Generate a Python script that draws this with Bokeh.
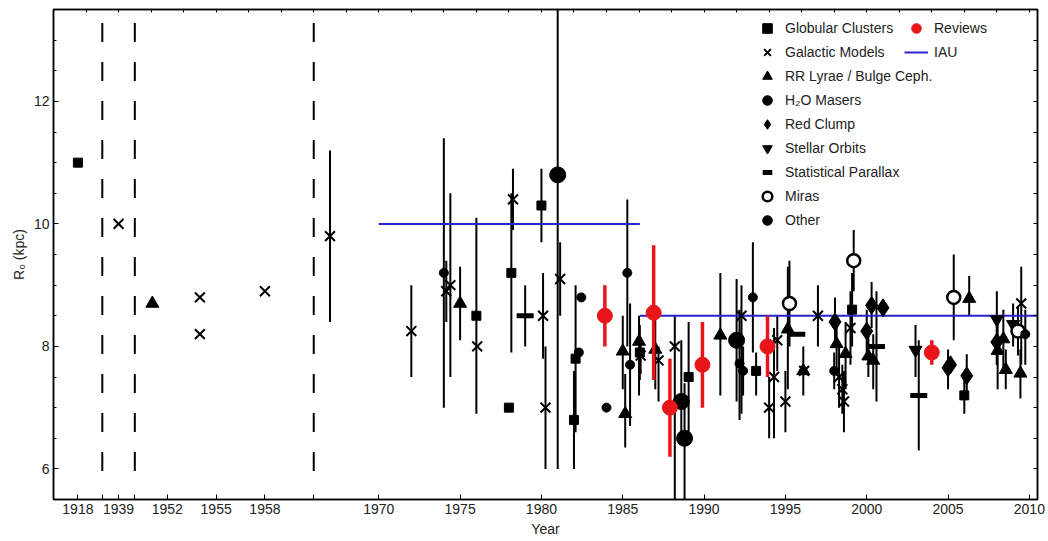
import numpy as np
from bokeh.plotting import figure
from bokeh.models import Range1d, LinearAxis, FixedTicker, Legend, LegendItem, CustomJSTickFormatter
from bokeh.embed import file_html
from bokeh.resources import INLINE

nan = float("nan")
FONT = "Liberation Sans"

# ---- broken time axis: year label -> axis position ----
AXIS_YEARS = [1918, 1939, 1952, 1955, 1958, 1966, 2011]
AXIS_POS = [1951.5, 1954, 1957, 1960, 1963, 1966, 2011]
BREAK_POS = [1953, 1955, 1966]
TICK_YEARS = [1918, 1939, 1952, 1955, 1958, 1970, 1975, 1980, 1985, 1990, 1995, 2000, 2005, 2010]

# ---- data: year, R0 (kpc), lower / upper end of error bar ----
GC_YEAR = [1918, 1976.0, 1978.15, 1978.0, 1980.0, 1982.0, 1982.1, 1986.05, 1989.05, 1993.2, 1999.1, 2006.0]
GC_R0 = [11.0, 8.5, 9.2, 7.0, 10.3, 6.8, 7.8, 7.9, 7.5, 7.6, 8.6, 7.2]
GC_LO = [nan, 6.9, 7.9, nan, 9.7, 6.0, 6.6, 7.45, 6.6, 7.2, 8.0, 6.9]
GC_HI = [nan, 10.1, 10.5, nan, 10.9, 7.6, 9.0, 8.35, 8.4, 7.9, 9.2, 7.45]

GM_YEAR = [1939, 1954, 1954, 1958, 1967, 1972.0, 1974.15, 1974.4, 1976.05, 1978.25, 1980.1, 1980.25,
           1981.15, 1986.1, 1987.2, 1988.2, 1992.3, 1994.0, 1994.3, 1994.5, 1995.0, 1996.15, 1997.0,
           1998.3, 1998.5, 1998.6, 1999.0, 2009.5]
GM_R0 = [10.0, 8.8, 8.2, 8.9, 9.8, 8.25, 8.9, 9.0, 8.0, 10.4, 8.5, 7.0,
         9.1, 7.85, 7.77, 8.0, 8.5, 7.0, 7.5, 8.1, 7.1, 7.6, 8.5,
         7.5, 7.3, 7.1, 8.3, 8.7]
GM_LO = [nan, nan, nan, nan, 8.4, 7.5, 8.4, 7.5, nan, 9.9, 7.8, 6.0,
         8.5, 7.55, 7.1, 5.5, 6.9, 6.5, 6.5, 7.6, 6.6, nan, 8.0,
         7.0, 6.9, 6.6, 7.7, 7.7]
GM_HI = [nan, nan, nan, nan, 11.2, 9.0, 9.4, 10.5, nan, 10.9, 9.2, 8.0,
         9.7, 8.15, 8.0, 8.5, 9.0, 7.5, 8.3, 8.5, 7.6, nan, 9.0,
         8.0, 7.7, 7.6, 8.9, 9.3]

RR_YEAR = [1948, 1975.0, 1985.0, 1985.15, 1986.0, 1987.0, 1991.0, 1995.15, 1996.1, 1998.15, 1998.7,
           2000.1, 2000.4, 2006.3, 2008.05, 2008.4, 2008.55, 2009.45]
RR_R0 = [8.7, 8.7, 7.92, 6.9, 8.08, 7.95, 8.18, 8.28, 7.6, 8.04, 7.88,
         7.84, 7.77, 8.78, 7.93, 8.12, 7.62, 7.56]
RR_LO = [nan, 8.1, 7.3, 6.35, 7.2, 7.3, 7.2, 7.3, 7.2, 7.6, 7.3,
         7.5, 7.3, 8.5, 7.3, 7.6, 7.3, 7.15]
RR_HI = [nan, 9.3, 8.5, 7.55, 8.5, 8.6, 9.2, 9.3, 8.0, 8.5, 8.4,
         8.2, 8.2, 9.15, 8.5, 8.6, 7.95, 7.95]

MASER_YEAR = [1981.0, 1988.6, 1988.8, 1992.0]
MASER_R0 = [10.8, 7.1, 6.5, 8.1]
MASER_LO = [6.0, 6.4, 5.5, 7.1]
MASER_HI = [15.6, 8.1, 7.4, 9.1]

RC_YEAR = [1998.05, 2000.0, 2000.3, 2001.0, 2005.0, 2005.15, 2006.15, 2008.0]
RC_R0 = [8.4, 8.25, 8.67, 8.63, 7.65, 7.7, 7.52, 8.07]
RC_LO = [8.0, 7.9, 8.3, nan, 7.3, nan, 7.2, 7.7]
RC_HI = [8.8, 8.6, 9.05, nan, 7.95, nan, 7.87, 8.45]

SO_YEAR = [2003.0, 2008.0, 2009.0]
SO_R0 = [7.94, 8.44, 8.36]
SO_LO = [7.5, 7.7, 8.0]
SO_HI = [8.35, 8.9, 8.7]

SP_YEAR = [1979.0, 1995.7, 2000.6, 2003.2]
SP_R0 = [8.5, 8.2, 8.0, 7.2]
SP_LO = [8.0, nan, 7.1, 6.3]
SP_HI = [9.0, nan, 8.9, 8.1]

MIRA_YEAR = [1995.25, 1999.2, 2005.35, 2009.3]
MIRA_R0 = [8.7, 9.4, 8.8, 8.25]
MIRA_LO = [8.0, 8.9, 8.1, 7.85]
MIRA_HI = [9.4, 9.9, 9.5, 8.65]

OTHER_YEAR = [1974.0, 1982.3, 1982.45, 1984.0, 1985.28, 1985.45, 1992.18, 1992.4, 1993.0, 1998.0, 2009.75]
OTHER_R0 = [9.2, 7.9, 8.8, 7.0, 9.2, 7.7, 7.72, 7.6, 8.8, 7.6, 8.2]
OTHER_LO = [7.0, nan, nan, nan, 8.0, 6.7, 6.8, 7.2, 7.9, 7.3, 7.7]
OTHER_HI = [11.4, nan, nan, nan, 10.4, 8.7, 8.6, 8.0, 9.7, 7.9, 8.6]

REV_YEAR = [1983.9, 1986.9, 1987.9, 1989.9, 1993.9, 2004.0]
REV_R0 = [8.5, 8.55, 7.0, 7.7, 8.0, 7.9]
REV_LO = [8.0, 7.45, 6.2, 7.0, 7.5, 7.7]
REV_HI = [9.0, 9.65, 7.8, 8.4, 8.5, 8.1]

IAU_START = [1970, 1986.05]
IAU_END = [1986.05, 2010.5]
IAU_R0 = [10.0, 8.5]

BLACK = "#000000"
RED = "#e8161b"
BLUE = "#2b22c8"


def pos(years):
    return np.interp(np.asarray(years, dtype=float), AXIS_YEARS, AXIS_POS)


p = figure(width=1048, height=541, x_range=Range1d(1950, 2010.5), y_range=Range1d(5.5, 13.5),
           output_backend="svg", toolbar_location=None,
           min_border_left=53, min_border_right=11, min_border_top=9, min_border_bottom=42,
           background_fill_color="white", border_fill_color="white")
p.grid.visible = False
p.outline_line_color = "black"
p.outline_line_width = 1.5

# axis-break dashed lines
p.segment(x0=BREAK_POS, y0=[13.28] * 3, x1=BREAK_POS, y1=[5.9] * 3,
          line_color="black", line_width=2, line_dash="19 20")


def bars(year, lo, hi, color, width):
    idx = [i for i in range(len(year)) if not np.isnan(lo[i])]
    x = pos([year[i] for i in idx])
    p.segment(x0=x, y0=[lo[i] for i in idx], x1=x, y1=[hi[i] for i in idx],
              line_color=color, line_width=width)


for yr, lo, hi in [(GC_YEAR, GC_LO, GC_HI), (GM_YEAR, GM_LO, GM_HI), (RR_YEAR, RR_LO, RR_HI),
                   (MASER_YEAR, MASER_LO, MASER_HI), (RC_YEAR, RC_LO, RC_HI), (SO_YEAR, SO_LO, SO_HI),
                   (SP_YEAR, SP_LO, SP_HI), (MIRA_YEAR, MIRA_LO, MIRA_HI), (OTHER_YEAR, OTHER_LO, OTHER_HI)]:
    bars(yr, lo, hi, BLACK, 2)

r_iau = p.segment(x0=IAU_START, y0=IAU_R0, x1=IAU_END, y1=IAU_R0, line_color=BLUE, line_width=2)

r_gc = p.scatter(pos(GC_YEAR), GC_R0, marker="square", size=9, color=BLACK)
r_gm = p.scatter(pos(GM_YEAR), GM_R0, marker="x", size=14, line_width=2, color=BLACK)
r_rr = p.scatter(pos(RR_YEAR), RR_R0, marker="triangle", size=13, color=BLACK)
r_ms = p.scatter(pos(MASER_YEAR), MASER_R0, marker="circle", size=16, color=BLACK)
r_rc = p.scatter(pos(RC_YEAR), RC_R0, marker="diamond", size=18, color=BLACK)
r_so = p.scatter(pos(SO_YEAR), SO_R0, marker="inverted_triangle", size=13, color=BLACK)
r_sp = p.scatter(pos(SP_YEAR), SP_R0, marker="dash", size=17, line_width=5, color=BLACK)
r_mi = p.scatter(pos(MIRA_YEAR), MIRA_R0, marker="circle", size=13, line_width=2.5,
                 line_color=BLACK, fill_color="white")
r_ot = p.scatter(pos(OTHER_YEAR), OTHER_R0, marker="circle", size=9, color=BLACK)

bars(REV_YEAR, REV_LO, REV_HI, RED, 3.5)
r_rev = p.scatter(pos(REV_YEAR), REV_R0, marker="circle", size=15, color=RED)

# ---- axes ----
label_pos = [float(v) for v in pos(TICK_YEARS)]
overrides = {lp: str(y) for lp, y in zip(label_pos, TICK_YEARS)}
for b in BREAK_POS:
    overrides[float(b)] = ""
xa = p.xaxis[0]
xa.ticker = FixedTicker(ticks=label_pos + [float(b) for b in BREAK_POS])
xa.major_label_overrides = overrides
xa.axis_label = "Year"

ya = p.yaxis[0]
ya.ticker = FixedTicker(ticks=[6, 8, 10, 12], minor_ticks=list(np.arange(5.5, 13.51, 0.5)))
ya.axis_label = "R₀ (kpc)"

for ax in [xa, ya]:
    ax.major_tick_in = 5
    ax.major_tick_out = 0
    ax.minor_tick_in = 3
    ax.minor_tick_out = 0
    ax.major_label_text_font = FONT
    ax.major_label_text_font_size = "14px"
    ax.major_label_text_color = "#222222"
    ax.axis_label_text_font = FONT
    ax.axis_label_text_font_size = "14px"
    ax.axis_label_text_font_style = "normal"
    ax.axis_label_text_color = "#222222"
    ax.axis_line_width = 1.5
    ax.major_label_standoff = 4
    ax.axis_label_standoff = 4
xa.minor_tick_line_color = None

blank = CustomJSTickFormatter(code="return ''")
top = LinearAxis(ticker=FixedTicker(ticks=list(np.arange(1950, 2011, 2))), formatter=blank,
                 major_tick_in=3, major_tick_out=0, minor_tick_line_color=None,
                 major_label_text_font_size="0px", major_label_standoff=0, axis_line_width=1.5)
right = LinearAxis(y_range_name="default", ticker=FixedTicker(ticks=list(np.arange(5.5, 13.51, 0.5))),
                   formatter=blank, major_tick_in=4, major_tick_out=0, minor_tick_line_color=None,
                   major_label_text_font_size="0px", major_label_standoff=0, axis_line_width=1.5)
p.add_layout(top, "above")
p.add_layout(right, "right")

# ---- legends ----
common = dict(orientation="vertical", border_line_color=None, background_fill_alpha=0,
              padding=0, margin=0, spacing=0, glyph_width=24, glyph_height=24, label_height=24,
              label_standoff=6, label_text_font=FONT, label_text_font_size="14px",
              label_text_color="#222222")
leg1 = Legend(items=[
    LegendItem(label="Globular Clusters", renderers=[r_gc]),
    LegendItem(label="Galactic Models", renderers=[r_gm]),
    LegendItem(label="RR Lyrae / Bulge Ceph.", renderers=[r_rr]),
    LegendItem(label="H₂O Masers", renderers=[r_ms]),
    LegendItem(label="Red Clump", renderers=[r_rc]),
    LegendItem(label="Stellar Orbits", renderers=[r_so]),
    LegendItem(label="Statistical Parallax", renderers=[r_sp]),
    LegendItem(label="Miras", renderers=[r_mi]),
    LegendItem(label="Other", renderers=[r_ot]),
], location=(702, 267), **common)
leg2 = Legend(items=[
    LegendItem(label="Reviews", renderers=[r_rev]),
    LegendItem(label="IAU", renderers=[r_iau]),
], location=(851, 435), **common)
p.add_layout(leg1)
p.add_layout(leg2)

open("out.html", "w").write(file_html(p, INLINE))
